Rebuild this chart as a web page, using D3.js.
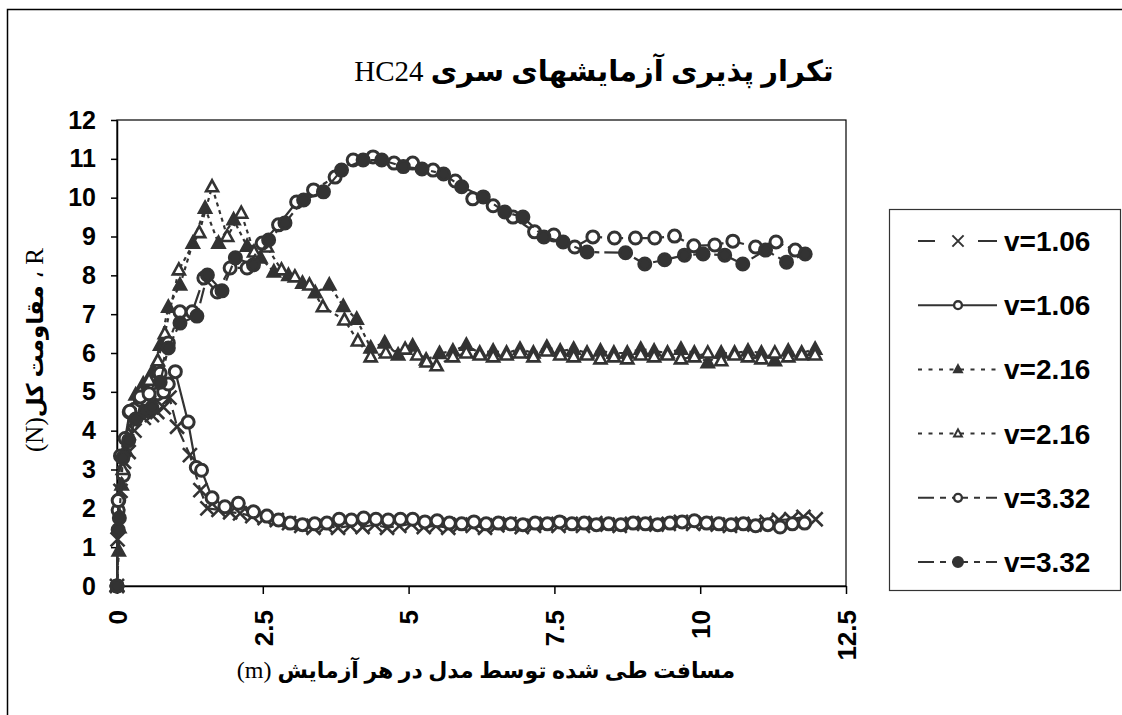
<!DOCTYPE html>
<html lang="fa">
  <head>
    <meta charset="UTF-8" />
    <title>HC24</title>
    <script src="https://d3js.org/d3.v7.min.js"></script>
    <style>
      body { margin: 0; background: #fff; }
      svg { display: block; }
    </style>
  </head>
  <body>
    <script>
      // axis ticks and legend labels
      const xTicks = [0, 2.5, 5, 7.5, 10, 12.5];
      const yTicks = [0, 1, 2, 3, 4, 5, 6, 7, 8, 9, 10, 11, 12];
      const legendLabels = ["v=1.06", "v=1.06", "v=2.16", "v=2.16", "v=3.32", "v=3.32"];

      // v=1.06, crosses
      const cross106X = [0, 0.01, 0.06, 0.12, 0.2, 0.3, 0.46, 0.6, 0.69, 0.8, 0.9, 1.03, 1.25, 1.43, 1.55, 1.74, 1.94, 2.11,
        2.32, 2.53, 2.74, 2.95, 3.16, 3.37, 3.58, 3.79, 4.0, 4.21, 4.42, 4.63, 4.84, 5.05, 5.26, 5.47, 5.68, 5.89, 6.1, 6.31,
        6.52, 6.73, 6.94, 7.15, 7.36, 7.57, 7.78, 7.99, 8.2, 8.41, 8.62, 8.83, 9.04, 9.25, 9.46, 9.67, 9.88, 10.09, 10.3,
        10.51, 10.72, 10.93, 11.14, 11.35, 11.56, 11.77, 11.98];
      const cross106Y = [0, 1.2, 2.45, 3.2, 3.45, 4.0, 4.33, 4.4, 4.48, 4.6, 4.85, 4.1, 3.37, 2.47, 2.0, 1.96, 1.9, 1.87,
        1.8, 1.75, 1.7, 1.62, 1.55, 1.5, 1.55, 1.5, 1.55, 1.52, 1.58, 1.5, 1.55, 1.6, 1.52, 1.55, 1.5, 1.58, 1.55, 1.5,
        1.56, 1.6, 1.52, 1.55, 1.6, 1.55, 1.6, 1.55, 1.62, 1.58, 1.55, 1.6, 1.62, 1.58, 1.6, 1.65, 1.6, 1.62, 1.58,
        1.55, 1.6, 1.58, 1.65, 1.7, 1.72, 1.78, 1.72];

      // v=1.06, open circles
      const circ106X = [0, 0.02, 0.03, 0.11, 0.17, 0.21, 0.3, 0.4, 0.52, 0.6, 0.7, 0.8, 0.88, 1.0, 1.22, 1.36, 1.45, 1.63,
        1.85, 2.08, 2.34, 2.57, 2.77, 2.97, 3.18, 3.39, 3.6, 3.81, 4.02, 4.23, 4.44, 4.65, 4.86, 5.07, 5.28, 5.49, 5.7,
        5.91, 6.12, 6.33, 6.54, 6.75, 6.96, 7.17, 7.38, 7.59, 7.8, 8.01, 8.22, 8.43, 8.64, 8.85, 9.06, 9.27, 9.48, 9.69,
        9.9, 10.11, 10.32, 10.53, 10.74, 10.95, 11.16, 11.37, 11.58, 11.79];
      const circ106Y = [0, 1.95, 2.2, 2.85, 3.8, 4.48, 4.55, 4.79, 4.75, 4.9, 4.95, 5.0, 5.2, 5.52, 4.22, 3.05, 2.98, 2.27,
        2.04, 2.13, 1.91, 1.8, 1.7, 1.62, 1.58, 1.6, 1.62, 1.72, 1.7, 1.75, 1.72, 1.7, 1.72, 1.72, 1.65, 1.68, 1.62,
        1.6, 1.65, 1.6, 1.62, 1.6, 1.58, 1.62, 1.6, 1.65, 1.6, 1.62, 1.58, 1.6, 1.58, 1.62, 1.6, 1.58, 1.62, 1.65,
        1.68, 1.62, 1.6, 1.58, 1.6, 1.55, 1.58, 1.52, 1.6, 1.62];

      // v=2.16, filled triangles
      const triF216X = [0, 0.03, 0.08, 0.15, 0.32, 0.45, 0.6, 0.74, 0.88, 1.08, 1.3, 1.51, 1.74, 2.0, 2.23, 2.46, 2.69,
        2.94, 3.18, 3.4, 3.64, 3.88, 4.11, 4.35, 4.59, 4.82, 5.07, 5.3, 5.53, 5.76, 5.99, 6.22, 6.45, 6.68, 6.91, 7.14,
        7.37, 7.6, 7.83, 8.06, 8.29, 8.52, 8.75, 8.98, 9.21, 9.44, 9.67, 9.9, 10.13, 10.36, 10.59, 10.82, 11.05, 11.28,
        11.51, 11.74, 11.97];
      const triF216Y = [0, 0.9, 2.6, 3.5, 4.92, 5.2, 5.5, 6.2, 7.18, 7.75, 8.83, 9.73, 8.83, 9.43, 8.75, 8.45, 8.09,
        8.0, 7.8, 7.55, 7.75, 7.2, 6.87, 6.13, 6.26, 5.95, 6.18, 5.82, 5.99, 6.05, 6.2, 6.0, 6.05, 6.0, 6.1, 6.0,
        6.15, 6.05, 6.1, 6.0, 6.05, 6.0, 6.0, 6.1, 6.05, 6.0, 6.1, 6.0, 5.75, 6.0, 6.0, 6.05, 6.0, 5.8,
        6.05, 6.0, 6.1];

      // v=2.16, open triangles
      const triO216X = [0, 0.04, 0.1, 0.2, 0.4, 0.55, 0.7, 0.82, 1.06, 1.41, 1.63, 1.89, 2.13, 2.35, 2.57, 2.82, 3.05,
        3.3, 3.53, 3.9, 4.13, 4.35, 4.61, 4.94, 5.15, 5.31, 5.48, 5.76, 5.99, 6.22, 6.45, 6.68, 6.91, 7.14, 7.37, 7.6,
        7.83, 8.06, 8.29, 8.52, 8.75, 8.98, 9.21, 9.44, 9.67, 9.9, 10.13, 10.36, 10.59, 10.82, 11.05, 11.28, 11.51,
        11.74, 11.97];
      const triO216Y = [0, 1.5, 3.0, 3.9, 5.0, 5.3, 5.8, 6.5, 8.14, 9.1, 10.28, 9.0, 9.6, 8.6, 8.73, 8.14, 7.96,
        7.75, 7.19, 6.85, 6.31, 5.9, 6.0, 6.1, 5.95, 5.77, 5.67, 5.9, 6.0, 5.95, 5.9, 5.95, 6.0, 5.9, 6.05, 5.95,
        5.9, 5.95, 5.85, 5.9, 5.85, 5.95, 5.9, 5.95, 5.85, 5.9, 6.0, 5.8, 5.95, 5.9, 5.85, 6.0, 5.9,
        5.95, 5.95];

      // v=3.32, open circles
      const circO332X = [0, 0.02, 0.06, 0.14, 0.22, 0.4, 0.55, 0.74, 0.88, 1.08, 1.29, 1.49, 1.72, 1.94, 2.23, 2.49,
        2.77, 3.08, 3.37, 3.74, 4.05, 4.39, 4.75, 5.07, 5.42, 5.8, 6.1, 6.45, 6.79, 7.16, 7.49, 7.85, 8.16, 8.53, 8.89,
        9.22, 9.56, 9.89, 10.25, 10.56, 10.95, 11.3, 11.63];
      const circO332Y = [0, 2.2, 3.35, 3.8, 4.5, 4.87, 4.95, 5.48, 6.26, 7.06, 7.06, 7.93, 7.57, 8.19, 8.19, 8.83,
        9.3, 9.89, 10.2, 10.53, 10.97, 11.05, 10.89, 10.89, 10.71, 10.43, 9.97, 9.79, 9.5, 9.12, 9.04, 8.73, 8.99, 8.96,
        8.96, 8.96, 9.01, 8.76, 8.78, 8.88, 8.73, 8.86, 8.65];

      // v=3.32, filled circles
      const circF332X = [0, 0.02, 0.04, 0.1, 0.2, 0.32, 0.48, 0.6, 0.74, 0.88, 1.08, 1.37, 1.55, 1.8, 2.03, 2.34, 2.6,
        2.88, 3.2, 3.54, 3.85, 4.22, 4.54, 4.91, 5.23, 5.6, 5.91, 6.28, 6.65, 6.96, 7.32, 7.65, 8.06, 8.72, 9.05, 9.39,
        9.73, 10.05, 10.42, 10.73, 11.12, 11.48, 11.8];
      const circF332Y = [0, 1.45, 1.75, 3.3, 3.75, 4.3, 4.5, 4.6, 5.25, 6.13, 6.77, 6.95, 8.01, 7.6, 8.45, 8.27, 8.91,
        9.35, 9.94, 10.15, 10.71, 10.97, 10.97, 10.8, 10.74, 10.61, 10.28, 10.02, 9.63, 9.5, 8.99, 8.86, 8.6, 8.58, 8.29,
        8.4, 8.52, 8.55, 8.52, 8.29, 8.65, 8.34, 8.55];

      const ink = "#333333";

      const series = [
        { xs: cross106X, ys: cross106Y, marker: "cross", dash: "14,6", legendDash: "17,43,19" },
        { xs: circ106X, ys: circ106Y, marker: "circleOpen", dash: null, legendDash: null },
        { xs: triF216X, ys: triF216Y, marker: "triFilled", dash: "4,4", legendDash: "4,6.5" },
        { xs: triO216X, ys: triO216Y, marker: "triOpen", dash: "4,4", legendDash: "4,6.5" },
        { xs: circO332X, ys: circO332Y, marker: "circleOpen", dash: "16,5,5,5", legendDash: "16,6,6,6" },
        { xs: circF332X, ys: circF332Y, marker: "circleFilled", dash: "16,5,5,5", legendDash: "16,6,6,6" },
      ];

      const W = 1122, H = 715;
      const plot = { left: 117, right: 846, top: 120, bottom: 586 };

      const svg = d3.select("body").append("svg").attr("width", W).attr("height", H);

      // outer chart frame (runs off the right/bottom of the page)
      svg.append("rect")
        .attr("x", 7.5).attr("y", 9.5).attr("width", 1300).attr("height", 900)
        .attr("fill", "#fff").attr("stroke", "#000").attr("stroke-width", 1.5);

      const x = d3.scaleLinear().domain([0, 12.5]).range([plot.left, plot.right]);
      const y = d3.scaleLinear().domain([0, 12]).range([plot.bottom, plot.top]);

      // plot frame
      svg.append("rect")
        .attr("x", plot.left).attr("y", plot.top)
        .attr("width", plot.right - plot.left).attr("height", plot.bottom - plot.top)
        .attr("fill", "#fff").attr("stroke", "#000").attr("stroke-width", 1.2);

      // y axis
      const yAxis = svg.append("g")
        .attr("transform", `translate(${plot.left},0)`)
        .call(d3.axisLeft(y).tickValues(yTicks).tickSize(6).tickSizeOuter(0).tickPadding(15));
      yAxis.selectAll("text")
        .style("font-family", "'Liberation Sans', Arial, sans-serif")
        .style("font-weight", "bold").style("font-size", "25px").attr("fill", "#000");

      // x axis with rotated labels
      const xAxis = svg.append("g")
        .attr("transform", `translate(0,${plot.bottom})`)
        .call(d3.axisBottom(x).tickValues(xTicks).tickSize(8).tickSizeOuter(0).tickFormat((d) => d));
      xAxis.selectAll("text")
        .attr("x", 0).attr("y", 0).attr("dy", "0.36em")
        .attr("transform", "translate(0,24) rotate(-90)")
        .style("text-anchor", "end")
        .style("font-family", "'Liberation Sans', Arial, sans-serif")
        .style("font-weight", "bold").style("font-size", "26px").attr("fill", "#000");

      svg.selectAll(".domain, .tick line").attr("stroke", "#000").attr("stroke-width", 1.5);

      // marker drawing
      function drawMarker(g, type, cx, cy, s, sw) {
        if (type === "cross") {
          g.append("path")
            .attr("d", `M${cx - 7 * s},${cy - 7 * s}L${cx + 7 * s},${cy + 7 * s}M${cx - 7 * s},${cy + 7 * s}L${cx + 7 * s},${cy - 7 * s}`)
            .attr("stroke", ink).attr("stroke-width", sw).attr("fill", "none");
        } else if (type === "circleOpen" || type === "circleFilled") {
          g.append("circle")
            .attr("cx", cx).attr("cy", cy).attr("r", 6 * s)
            .attr("fill", type === "circleOpen" ? "#fff" : ink)
            .attr("stroke", ink).attr("stroke-width", sw + 0.4);
        } else {
          g.append("path")
            .attr("d", `M${cx},${cy - 6.5 * s}L${cx + 6 * s},${cy + 4.5 * s}L${cx - 6 * s},${cy + 4.5 * s}Z`)
            .attr("fill", type === "triOpen" ? "#fff" : ink)
            .attr("stroke", ink).attr("stroke-width", sw).attr("stroke-linejoin", "miter");
        }
      }

      const line = d3.line().x((d) => x(d[0])).y((d) => y(d[1]));

      series.forEach((s) => {
        const pts = s.xs.map((v, i) => [v, s.ys[i]]);
        const g = svg.append("g");
        g.append("path")
          .attr("d", line(pts))
          .attr("fill", "none")
          .attr("stroke", ink)
          .attr("stroke-width", 2.2)
          .attr("stroke-dasharray", s.dash);
        pts.forEach((p) => drawMarker(g, s.marker, x(p[0]), y(p[1]), 1, 2.6));
      });

      // title
      const serif = "'Liberation Serif', 'Times New Roman', 'DejaVu Sans', serif";
      const title = svg.append("text")
        .attr("x", 594).attr("y", 81)
        .attr("text-anchor", "middle")
        .attr("direction", "ltr")
        .style("font-family", serif)
        .style("font-size", "29px").attr("fill", "#000");
      title.append("tspan").text("HC24 ");
      title.append("tspan").style("font-weight", "bold").text("تکرار پذیری آزمایشهای سری");

      // x axis title
      const xTitle = svg.append("text")
        .attr("x", 486).attr("y", 678)
        .attr("text-anchor", "middle")
        .attr("direction", "ltr")
        .style("font-family", serif)
        .style("font-size", "22px").attr("fill", "#000");
      xTitle.append("tspan").style("font-size", "24px").text("(m) ");
      xTitle.append("tspan").style("font-weight", "bold").text("مسافت طی شده توسط مدل در هر آزمایش");

      // y axis title
      const yTitle = svg.append("text")
        .attr("transform", "translate(43,350) rotate(-90)")
        .attr("text-anchor", "middle")
        .attr("direction", "ltr")
        .style("font-family", serif)
        .style("font-size", "23px").attr("fill", "#000");
      yTitle.append("tspan").style("font-size", "25px").text("(N)");
      yTitle.append("tspan").style("font-weight", "bold").text("مقاومت  کل");
      yTitle.append("tspan").style("font-size", "25px").text(" ، R");

      // legend
      const legend = svg.append("g");
      legend.append("rect")
        .attr("x", 889.5).attr("y", 209.5).attr("width", 231).attr("height", 381)
        .attr("fill", "#fff").attr("stroke", "#333").attr("stroke-width", 1.2);

      const rowY = d3.scaleLinear().domain([0, 5]).range([241, 562]);
      series.forEach((s, i) => {
        const ry = rowY(i);
        legend.append("line")
          .attr("x1", 918).attr("x2", 997).attr("y1", ry).attr("y2", ry)
          .attr("stroke", ink).attr("stroke-width", 2)
          .attr("stroke-dasharray", s.legendDash);
        const scale = s.marker === "cross" ? 0.8 : s.marker === "circleFilled" ? 0.8 : 0.65;
        drawMarker(legend, s.marker, 958, ry, scale, 2);
        legend.append("text")
          .attr("x", 1004).attr("y", ry).attr("dy", "0.36em")
          .style("font-family", "'Liberation Sans', Arial, sans-serif")
          .style("font-weight", "bold").style("font-size", "28px")
          .attr("fill", "#000")
          .text(legendLabels[i]);
      });
    </script>
  </body>
</html>
